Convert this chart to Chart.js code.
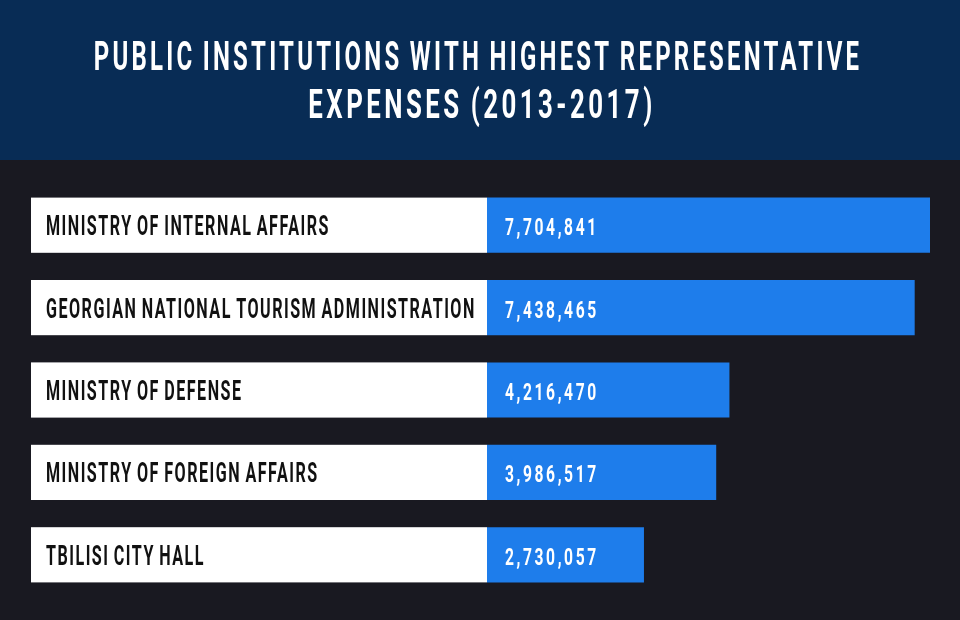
<!DOCTYPE html>
<html>
<head>
<meta charset="utf-8">
<script src="https://cdn.jsdelivr.net/npm/chart.js@4.4.1/dist/chart.umd.min.js"></script>
<style>
  html, body { margin: 0; padding: 0; background: #191921; }
  #wrap { width: 960px; height: 620px; position: relative; }
</style>
</head>
<body>
<div id="wrap"><canvas id="chart" width="960" height="620"></canvas></div>
<script>
(function () {
  'use strict';

  var TITLE_LINES = ["PUBLIC INSTITUTIONS WITH HIGHEST REPRESENTATIVE", "EXPENSES (2013-2017)"];
  var INSTITUTIONS = [
    "MINISTRY OF INTERNAL AFFAIRS",
    "GEORGIAN NATIONAL TOURISM ADMINISTRATION",
    "MINISTRY OF DEFENSE",
    "MINISTRY OF FOREIGN AFFAIRS",
    "TBILISI CITY HALL"
  ];
  var EXPENSES = [7704841, 7438465, 4216470, 3986517, 2730057];

  var FONT = 'Roboto, "DejaVu Sans", sans-serif';
  var BOX_LEFT = 31;

  // condensed look: squeeze text horizontally
  function squeezedText(ctx, text, x, y, sx) {
    ctx.save();
    ctx.translate(x, y);
    ctx.scale(sx, 1);
    ctx.fillText(text, 0, 0);
    ctx.restore();
  }

  var decorPlugin = {
    id: "decor",
    beforeDraw: function (chart) {
      var ctx = chart.ctx;
      ctx.save();
      ctx.fillStyle = "#191921";
      ctx.fillRect(0, 0, chart.width, chart.height);
      ctx.fillStyle = "#082c55";
      ctx.fillRect(0, 0, chart.width, 160);
      ctx.fillStyle = "#ffffff";
      ctx.font = "bold 41px " + FONT;
      ctx.letterSpacing = "5.5px";
      ctx.wordSpacing = "-3px";
      ctx.textAlign = "center";
      ctx.textBaseline = "alphabetic";
      squeezedText(ctx, TITLE_LINES[0], chart.width / 2 - 2, 70, 0.585);
      squeezedText(ctx, TITLE_LINES[1], chart.width / 2 + 2, 118, 0.63);
      ctx.restore();
    },
    beforeDatasetsDraw: function (chart) {
      var ctx = chart.ctx;
      var meta = chart.getDatasetMeta(0);
      ctx.save();
      meta.data.forEach(function (bar, i) {
        var top = bar.y - bar.height / 2;
        ctx.fillStyle = "#ffffff";
        ctx.fillRect(BOX_LEFT, top, chart.chartArea.left - BOX_LEFT, bar.height);
        ctx.fillStyle = "#111111";
        ctx.font = "bold 28px " + FONT;
        ctx.letterSpacing = "2.6px";
        ctx.wordSpacing = "-2px";
        ctx.textAlign = "left";
        ctx.textBaseline = "alphabetic";
        squeezedText(ctx, INSTITUTIONS[i], 46, bar.y + 10, 0.575);
      });
      ctx.restore();
    },
    afterDatasetsDraw: function (chart) {
      var ctx = chart.ctx;
      var meta = chart.getDatasetMeta(0);
      ctx.save();
      meta.data.forEach(function (bar, i) {
        ctx.fillStyle = "#ffffff";
        ctx.font = "bold 24px " + FONT;
        ctx.letterSpacing = "4px";
        ctx.textAlign = "left";
        ctx.textBaseline = "alphabetic";
        squeezedText(ctx, EXPENSES[i].toLocaleString("en-US"), chart.chartArea.left + 18, bar.y + 10, 0.65);
      });
      ctx.restore();
    }
  };

  new Chart(document.getElementById("chart"), {
    type: "bar",
    data: {
      labels: INSTITUTIONS,
      datasets: [{
        data: EXPENSES,
        backgroundColor: "#1e7deb",
        borderWidth: 0,
        barPercentage: 1,
        categoryPercentage: 0.67
      }]
    },
    options: {
      indexAxis: "y",
      responsive: false,
      animation: false,
      events: [],
      layout: { padding: { left: 487, right: 30, top: 184, bottom: 24 } },
      plugins: { legend: { display: false }, tooltip: { enabled: false }, title: { display: false } },
      scales: {
        x: { display: false, min: 0, max: Math.max.apply(null, EXPENSES) },
        y: { display: false }
      }
    },
    plugins: [decorPlugin]
  });
})();
</script>
</body>
</html>
